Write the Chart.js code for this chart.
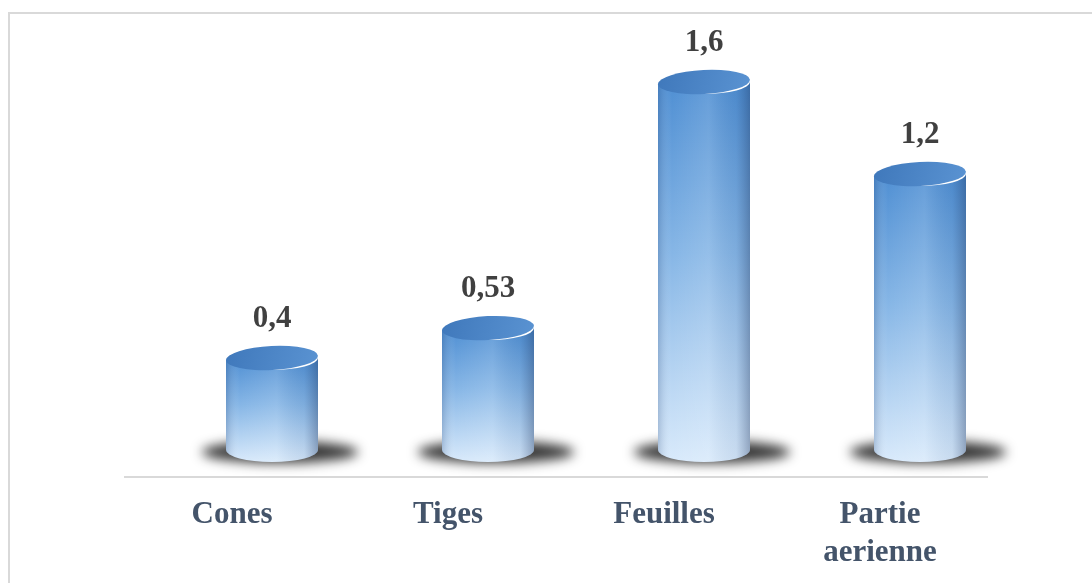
<!DOCTYPE html>
<html>
<head>
<meta charset="utf-8">
<script src="https://cdn.jsdelivr.net/npm/chart.js@4/dist/chart.umd.min.js"></script>
<style>
  html, body { margin: 0; padding: 0; background: #fff; }
  #wrap { width: 1092px; height: 583px; position: relative; }
</style>
</head>
<body>
<div id="wrap"><canvas id="chart" width="1092" height="583"></canvas></div>
<script>
const categories = ["Cones", "Tiges", "Feuilles", ["Partie", "aerienne"]];
const values = [0.4, 0.53, 1.6, 1.2];
const valueLabels = ["0,4", "0,53", "1,6", "1,2"];

const serif = "'Liberation Serif', 'Times New Roman', serif";
const depthShift = 40; // 3D look: cylinders sit a bit right of their category

// frame + base line + cylinders drawn over the (invisible) bars
const cylinderPlugin = {
  id: "cylinders",
  beforeDraw(chart) {
    const ctx = chart.ctx;
    ctx.save();
    ctx.fillStyle = "#fff";
    ctx.fillRect(0, 0, chart.width, chart.height);
    ctx.strokeStyle = "#d9d9d9";
    ctx.lineWidth = 2;
    ctx.strokeRect(9, 13, 1100, 600);
    ctx.restore();
  },
  afterDatasetsDraw(chart) {
    const ctx = chart.ctx;
    const area = chart.chartArea;
    const meta = chart.getDatasetMeta(0);

    // axis line below the bars
    ctx.save();
    ctx.strokeStyle = "#d9d9d9";
    ctx.lineWidth = 2;
    ctx.beginPath();
    ctx.moveTo(area.left, area.bottom + 27);
    ctx.lineTo(area.right, area.bottom + 27);
    ctx.stroke();
    ctx.restore();

    meta.data.forEach((bar, i) => {
      const w = bar.width;
      const cx = bar.x + depthShift;
      const left = cx - w / 2;
      const right = cx + w / 2;
      const top = bar.y;
      const base = bar.base;
      const ry = 12;

      // shadow
      ctx.save();
      ctx.filter = "blur(6px)";
      ctx.fillStyle = "rgba(20,20,20,0.85)";
      ctx.beginPath();
      ctx.ellipse(cx + 8, base + 2, w / 2 + 32, 11, 0, 0, Math.PI * 2);
      ctx.fill();
      ctx.restore();

      // body
      ctx.save();
      ctx.beginPath();
      ctx.moveTo(left, top);
      ctx.lineTo(left, base);
      ctx.ellipse(cx, base, w / 2, ry, 0, Math.PI, 0, true);
      ctx.lineTo(right, top);
      ctx.ellipse(cx, top, w / 2, ry, 0, 0, Math.PI, false);
      ctx.closePath();
      const vg = ctx.createLinearGradient(0, top, 0, base + ry);
      vg.addColorStop(0, "#4f8fd3");
      vg.addColorStop(0.45, "#86b6e6");
      vg.addColorStop(1, "#d9eafb");
      ctx.fillStyle = vg;
      ctx.fill();
      const hg = ctx.createLinearGradient(left, 0, right, 0);
      hg.addColorStop(0, "rgba(30,60,110,0.22)");
      hg.addColorStop(0.15, "rgba(255,255,255,0.0)");
      hg.addColorStop(0.55, "rgba(255,255,255,0.12)");
      hg.addColorStop(0.85, "rgba(30,60,110,0.08)");
      hg.addColorStop(1, "rgba(20,40,80,0.35)");
      ctx.fillStyle = hg;
      ctx.fill();
      ctx.restore();

      // top face
      ctx.save();
      ctx.beginPath();
      ctx.ellipse(cx, top, w / 2, ry, -0.05, 0, Math.PI * 2);
      const tg = ctx.createLinearGradient(left, top - ry, right, top + ry);
      tg.addColorStop(0, "#3f78bb");
      tg.addColorStop(1, "#5a93d2");
      ctx.fillStyle = tg;
      ctx.fill();
      ctx.restore();

      // value label
      ctx.save();
      ctx.font = "bold 31px " + serif;
      ctx.fillStyle = "#404040";
      ctx.textAlign = "center";
      ctx.textBaseline = "alphabetic";
      ctx.fillText(valueLabels[i], cx, top - ry - 19);
      ctx.restore();
    });
  }
};

new Chart(document.getElementById("chart"), {
  type: "bar",
  data: {
    labels: categories,
    datasets: [{
      data: values,
      backgroundColor: "rgba(0,0,0,0)",
      borderWidth: 0,
      categoryPercentage: 1,
      barPercentage: 92 / 216
    }]
  },
  options: {
    responsive: false,
    animation: false,
    layout: { padding: { left: 124, right: 104, top: 36, bottom: 11 } },
    plugins: { legend: { display: false }, tooltip: { enabled: false } },
    scales: {
      y: { display: false, min: 0, max: 1.8 },
      x: {
        afterFit(scale) { scale.height = 122; },
        grid: { display: false, drawTicks: false },
        border: { display: false },
        ticks: {
          padding: 46,
          color: "#44546a",
          maxRotation: 0,
          font: { family: serif, size: 31, weight: "bold", lineHeight: "38px" }
        }
      }
    }
  },
  plugins: [cylinderPlugin]
});
</script>
</body>
</html>
